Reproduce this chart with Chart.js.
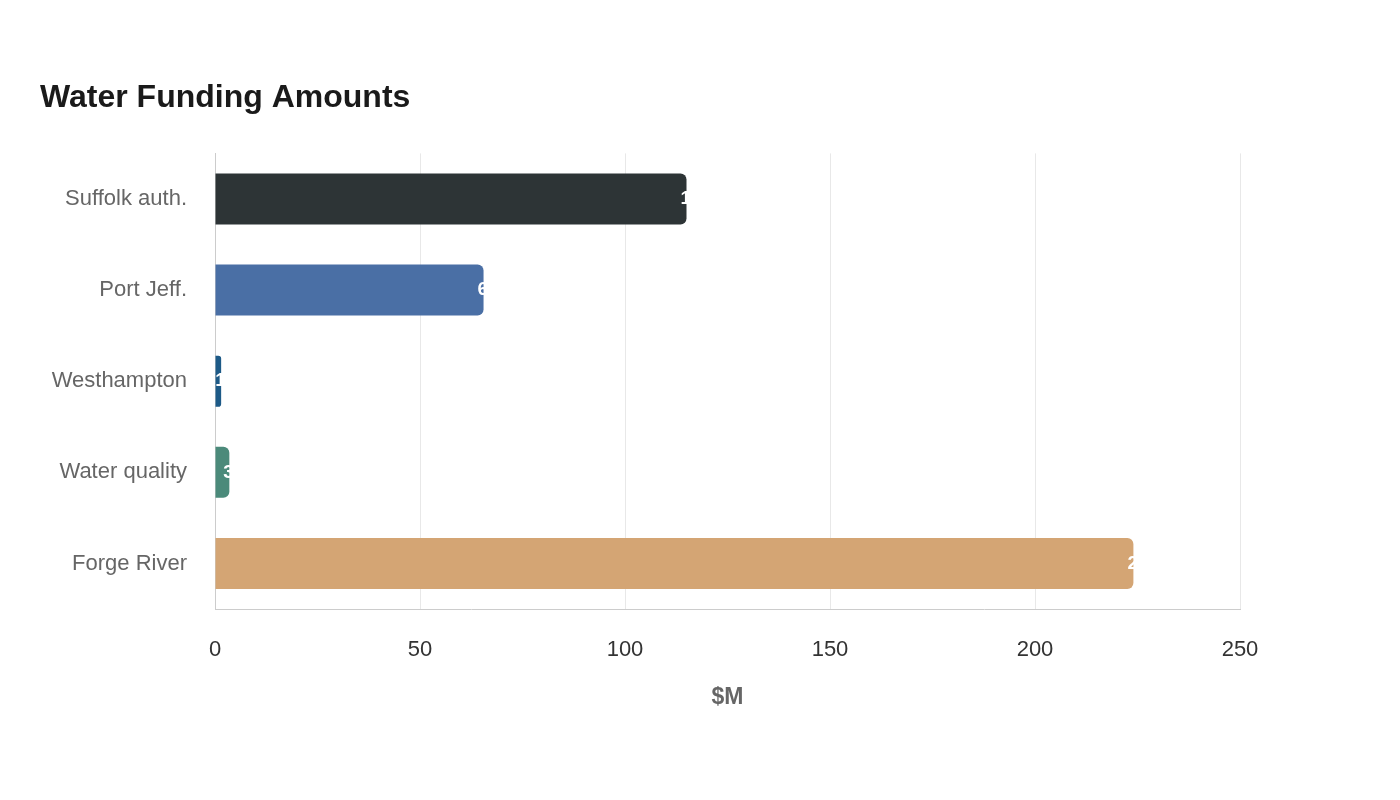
<!DOCTYPE html>
<html>
<head>
<meta charset="utf-8">
<script src="https://cdn.jsdelivr.net/npm/chart.js@4"></script>
<style>
  html, body { margin: 0; padding: 0; background: #fff; }
  #wrap { width: 1400px; height: 800px; }
</style>
</head>
<body>
<div id="wrap"><canvas id="chart" width="1400" height="800"></canvas></div>
<script>
var categories = ["Suffolk auth.", "Port Jeff.", "Westhampton", "Water quality", "Forge River"]
var amounts = [115, 65.5, 1.5, 3.5, 224]
var barColors = ["#2d3436", "#4a6fa5", "#1d5a87", "#4b8a7a", "#d4a574"]

// white value labels starting just inside the end of each bar
var endLabels = {
    id: "endLabels",
    afterDatasetsDraw: function(chart) {
        var ctx = chart.ctx
        var meta = chart.getDatasetMeta(0)
        ctx.save()
        ctx.fillStyle = "#ffffff"
        ctx.font = "bold 19px 'Liberation Sans', Arial, sans-serif"
        ctx.textAlign = "left"
        ctx.textBaseline = "middle"
        meta.data.forEach(function(bar, i) {
            ctx.fillText(String(amounts[i]), bar.x - 6, bar.y)
        })
        ctx.restore()
    }
}

Chart.defaults.font.family = "'Liberation Sans', Arial, sans-serif"

var chart = new Chart("chart", {
    type: "bar",
    plugins: [endLabels],
    data: {
        labels: categories,
        datasets: [{
            label: "Amount",
            data: amounts,
            backgroundColor: barColors,
            borderRadius: 6,
            borderSkipped: "start",
            barPercentage: 0.56,
            categoryPercentage: 1.0
        }]
    },
    options: {
        indexAxis: "y",
        responsive: false,
        animation: false,
        layout: { padding: { left: 40, right: 160, top: 79, bottom: 85 } },
        plugins: {
            legend: { display: false },
            tooltip: { enabled: false },
            title: {
                display: true,
                text: "Water Funding Amounts",
                align: "start",
                color: "#1a1a1a",
                font: { size: 32, weight: "bold" },
                padding: { top: 0, bottom: 36 }
            }
        },
        scales: {
            x: {
                min: 0,
                max: 250,
                ticks: { stepSize: 50, color: "#333", font: { size: 22 }, padding: 28 },
                grid: { color: "#e8e8e8", drawTicks: false },
                border: { color: "#ccc" },
                title: {
                    display: true,
                    text: "$M",
                    color: "#666",
                    font: { size: 23, weight: "bold" },
                    padding: { top: -8, bottom: 4 }
                }
            },
            y: {
                afterFit: function(axis) { axis.width = 175 },
                ticks: { color: "#666", font: { size: 22 }, padding: 28 },
                grid: { display: false, drawTicks: false },
                border: { color: "#ccc" }
            }
        }
    }
})
</script>
</body>
</html>
